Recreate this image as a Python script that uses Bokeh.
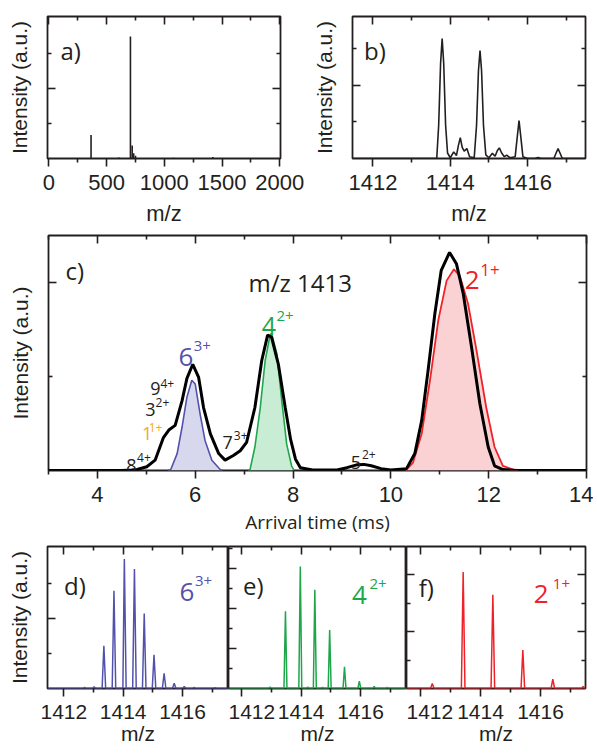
from bokeh.plotting import figure
from bokeh.models import Range1d, LinearAxis, FixedTicker, Label
from bokeh.layouts import column, row
from bokeh.embed import file_html
from bokeh.resources import INLINE

# ---------------- data ----------------
# a) full mass spectrum (stick peaks)
a_mz = [366, 606, 707, 722, 735, 751, 1080, 1420]
a_int = [0.67, 0.03, 3.49, 0.37, 0.15, 0.08, 0.02, 0.04]

# b) zoomed spectrum around m/z 1413
b_mz = [1411.5, 1413.65, 1413.70, 1413.75, 1413.79, 1413.83, 1413.88, 1413.93, 1414.00,
        1414.09, 1414.16, 1414.21, 1414.26, 1414.31, 1414.36, 1414.43, 1414.50, 1414.62,
        1414.68, 1414.73, 1414.77, 1414.81, 1414.86, 1414.92, 1415.00, 1415.09, 1415.16,
        1415.22, 1415.27, 1415.33, 1415.40, 1415.46, 1415.55, 1415.68, 1415.73, 1415.78,
        1415.83, 1415.88, 1416.00, 1416.20, 1416.27, 1416.35, 1416.68, 1416.74, 1416.79,
        1416.84, 1416.90, 1417.5]
b_int = [0, 0, 0.9, 2.6, 3.27, 2.6, 0.9, 0.15, 0.02,
         0.18, 0.08, 0.35, 0.57, 0.30, 0.20, 0.27, 0.05, 0.02,
         0.9, 2.4, 2.94, 2.4, 0.9, 0.1, 0.02, 0.14, 0.06,
         0.22, 0.29, 0.15, 0.05, 0.09, 0.02, 0.05, 0.55, 1.03,
         0.55, 0.05, 0.0, 0.0, 0.03, 0.0, 0.0, 0.15, 0.27,
         0.15, 0.0, 0.0]

# c) arrival time distributions
c_time = [3.0, 4.5, 4.7, 4.81, 5.01, 5.18, 5.35, 5.46, 5.59, 5.73, 5.83, 5.95, 6.07, 6.17,
          6.31, 6.48, 6.61, 6.78, 6.92, 7.05, 7.22, 7.36, 7.48, 7.56, 7.70, 7.84, 7.95,
          8.05, 8.15, 8.4, 8.9, 9.1, 9.3, 9.45, 9.6, 9.8, 10.0, 10.32, 10.49, 10.63, 10.76,
          10.90, 11.03, 11.20, 11.34, 11.48, 11.65, 11.82, 11.99, 12.12, 12.29, 12.6, 14.0]
c_total = [0, 0, 0.005, 0.01, 0.04, 0.11, 0.35, 0.43, 0.48, 0.74, 0.98, 1.13, 0.99, 0.67,
           0.39, 0.18, 0.11, 0.16, 0.21, 0.30, 0.67, 1.17, 1.44, 1.42, 1.13, 0.67, 0.33,
           0.12, 0.03, 0.005, 0.005, 0.03, 0.06, 0.065, 0.05, 0.02, 0.005, 0.02, 0.18, 0.53, 1.06,
           1.67, 2.13, 2.32, 2.20, 1.88, 1.31, 0.71, 0.25, 0.05, 0.01, 0, 0]
c_t6 = [5.45, 5.50, 5.63, 5.73, 5.83, 5.93, 6.00, 6.10, 6.20, 6.34, 6.51, 6.56]
c_i6 = [0, 0.01, 0.18, 0.46, 0.78, 0.96, 0.92, 0.60, 0.32, 0.11, 0.01, 0]
c_t4 = [7.08, 7.12, 7.22, 7.33, 7.43, 7.53, 7.56, 7.67, 7.77, 7.87, 7.97, 8.02]
c_i4 = [0, 0.01, 0.25, 0.67, 1.17, 1.44, 1.46, 1.24, 0.74, 0.28, 0.05, 0]
c_t2 = [10.30, 10.45, 10.63, 10.80, 10.97, 11.14, 11.29, 11.41, 11.58, 11.75, 11.95, 12.12,
        12.29, 12.50, 12.6]
c_i2 = [0, 0.08, 0.39, 0.96, 1.60, 2.02, 2.14, 2.07, 1.77, 1.28, 0.67, 0.25, 0.05, 0.01, 0]

# d) 6(3+) isotope pattern
d_mz = [1411.45, 1412.65, 1412.70, 1412.75, 1412.97, 1413.02, 1413.07, 1413.29, 1413.35, 1413.41,
        1413.63, 1413.69, 1413.75, 1413.99, 1414.04, 1414.10, 1414.32, 1414.38, 1414.44,
        1414.65, 1414.71, 1414.77, 1414.98, 1415.04, 1415.10, 1415.32, 1415.38, 1415.44,
        1415.66, 1415.72, 1415.78, 1416.00, 1416.06, 1416.12, 1416.34, 1416.39, 1416.44,
        1417.05, 1417.10, 1417.15, 1417.55]
d_int = [0, 0, 0.03, 0, 0, 0.05, 0, 0, 1.22, 0,
         0, 2.79, 0, 0, 3.69, 0, 0, 3.41, 0,
         0, 2.14, 0, 0, 0.96, 0, 0, 0.43, 0,
         0, 0.15, 0, 0, 0.06, 0, 0, 0.03, 0,
         0, 0.02, 0, 0]

# e) 4(2+) isotope pattern
e_mz = [1411.55, 1412.90, 1412.95, 1413.00, 1413.42, 1413.47, 1413.52, 1413.92, 1413.97, 1414.02,
        1414.18, 1414.22, 1414.26, 1414.41, 1414.46, 1414.51, 1414.68, 1414.72, 1414.76,
        1414.91, 1414.96, 1415.01, 1415.41, 1415.46, 1415.51, 1415.91, 1415.96, 1416.01,
        1416.41, 1416.46, 1416.51, 1416.85, 1416.90, 1416.95, 1417.55]
e_int = [0, 0, 0.08, 0, 0, 3.85, 0, 0, 6.08, 0,
         0, 0.08, 0, 0, 4.92, 0, 0, 0.06, 0,
         0, 2.92, 0, 0, 1.08, 0, 0, 0.37, 0,
         0, 0.10, 0, 0, 0.06, 0, 0]

# f) 2(1+) isotope pattern
f_mz = [1411.53, 1412.33, 1412.39, 1412.45, 1413.36, 1413.42, 1413.48, 1414.35, 1414.41, 1414.47,
        1415.35, 1415.41, 1415.47, 1416.35, 1416.41, 1416.47, 1417.37, 1417.42, 1417.47, 1417.5]
f_int = [0, 0, 0.18, 0, 0, 4.10, 0, 0, 3.30, 0,
         0, 1.35, 0, 0, 0.33, 0, 0, 0.07, 0, 0]

# ticks
a_xticks, a_xminor = [0, 500, 1000, 1500, 2000], [250, 750, 1250, 1750]
mz_xticks, mz_xminor = [1412, 1414, 1416], [1413, 1415, 1417]
c_xticks, c_xminor = [4, 6, 8, 10, 12, 14], [3, 5, 7, 9, 11, 13]
y4_ticks, y4_minor = [2], [1, 3]
c_yticks, c_yminor = [2], [1]
e_yticks, e_yminor = [2, 4, 6], [1, 3, 5, 7]
f_yticks, f_yminor = [2, 4], [1, 3]

# ---------------- styling ----------------
INK = "#231f20"
BLUE = "#5252ad"
BLUE_FILL = "#d7d7ee"
GREEN = "#1ea64b"
GREEN_FILL = "#c8ecd4"
RED = "#ee2228"
RED_FILL = "#fbd2d3"
ORANGE = "#f6a81c"
TICKF = "Liberation Sans"
ANNF = "Open Sans"


def style_axis(ax, side, labels, tick_size="22px"):
    ax.axis_line_color = None
    ax.major_tick_line_color = INK
    ax.minor_tick_line_color = INK
    ax.major_tick_line_width = 1.6
    ax.minor_tick_line_width = 1.6
    if side == "below":
        ax.major_tick_out, ax.major_tick_in = 8, 0
        ax.minor_tick_out, ax.minor_tick_in = 4, 0
    else:
        ax.major_tick_out, ax.major_tick_in = 0, 8
        ax.minor_tick_out, ax.minor_tick_in = 0, 4
    if labels:
        ax.major_label_text_font = TICKF
        ax.major_label_text_font_size = tick_size
        ax.major_label_text_color = INK
        ax.major_label_standoff = 8
    else:
        ax.major_label_text_font_size = "1px"
        ax.major_label_text_color = None
        ax.major_label_standoff = 0
    ax.axis_label_text_font_style = "normal"
    ax.axis_label_text_color = INK


def make_fig(w, h, xr, yr, borders, xt, yt, xlabel=None, ylabel=None,
             right=True, xlabel_font=TICKF, xlabel_size="22px", xlabel_standoff=8,
             tick_size="22px"):
    l, r, t, b = borders
    p = figure(width=w, height=h, x_range=Range1d(*xr), y_range=Range1d(*yr),
               output_backend="svg", toolbar_location=None,
               min_border_left=l, min_border_right=r, min_border_top=t, min_border_bottom=b)
    p.xgrid.visible = False
    p.ygrid.visible = False
    p.outline_line_color = INK
    p.outline_line_width = 1.8
    p.background_fill_color = "white"
    p.border_fill_color = "white"
    xtick = FixedTicker(ticks=xt[0], minor_ticks=xt[1])
    ytick = FixedTicker(ticks=yt[0], minor_ticks=yt[1])
    bx = p.below[0]
    bx.ticker = xtick
    style_axis(bx, "below", True, tick_size)
    if xlabel:
        bx.axis_label = xlabel
        bx.axis_label_text_font = xlabel_font
        bx.axis_label_text_font_size = xlabel_size
        bx.axis_label_standoff = xlabel_standoff
    ly = p.left[0]
    ly.ticker = ytick
    style_axis(ly, "left", False)
    if ylabel:
        ly.axis_label = ylabel
        ly.axis_label_text_font = TICKF
        ly.axis_label_text_font_size = "21px"
        ly.axis_label_standoff = 17
    top = LinearAxis(ticker=xtick)
    style_axis(top, "above", False)
    p.add_layout(top, "above")
    if right:
        ra = LinearAxis(ticker=ytick)
        style_axis(ra, "right", False)
        p.add_layout(ra, "right")
    return p


def lab(p, x, y, text, size, color=INK, font=ANNF, align="left"):
    p.add_layout(Label(x=x, y=y, text=text, text_font=font, text_font_size=size,
                       text_color=color, text_baseline="alphabetic", text_align=align))


# ---------------- a ----------------
pa = make_fig(308, 234, (-11, 2006), (0, 4.06), (47, 28, 16, 76),
              (a_xticks, a_xminor), (y4_ticks, y4_minor), xlabel="m/z", ylabel="Intensity (a.u.)")
pa.segment(x0=a_mz, y0=[0] * len(a_mz), x1=a_mz, y1=a_int, line_color=INK, line_width=1.6)
lab(pa, 101, 3.09, "a)", "24px")

# ---------------- b ----------------
pb = make_fig(285, 234, (1411.47, 1417.5), (0, 3.87), (44, 8, 16, 76),
              (mz_xticks, mz_xminor), (y4_ticks, y4_minor), xlabel="m/z", ylabel="Intensity (a.u.)")
pb.line(b_mz, b_int, line_color=INK, line_width=1.6)
lab(pb, 1411.77, 2.94, "b)", "24px")

# ---------------- c ----------------
pc = make_fig(593, 306, (3, 14), (0, 2.5), (48, 7, 1, 70),
              (c_xticks, c_xminor), (c_yticks, c_yminor), xlabel="Arrival time (ms)",
              ylabel="Intensity (a.u.)", xlabel_font=ANNF, xlabel_size="19px", xlabel_standoff=4)
pc.varea(x=c_t6, y1=[0] * len(c_t6), y2=c_i6, fill_color=BLUE_FILL)
pc.varea(x=c_t4, y1=[0] * len(c_t4), y2=c_i4, fill_color=GREEN_FILL)
pc.varea(x=c_t2, y1=[0] * len(c_t2), y2=c_i2, fill_color=RED_FILL)
pc.line(c_t6, c_i6, line_color=BLUE, line_width=1.6)
pc.line(c_t4, c_i4, line_color=GREEN, line_width=1.6)
pc.line(c_t2, c_i2, line_color=RED, line_width=1.8)
pc.line(c_time, c_total, line_color="black", line_width=3)

lab(pc, 3.35, 2.13, "c)", "24px")
lab(pc, 7.09, 2.0, "m/z 1413", "24px")
lab(pc, 5.66, 1.205, "6", "26px", BLUE)
lab(pc, 5.97, 1.32, "3+", "15px", BLUE)
lab(pc, 7.36, 1.54, "4", "25px", GREEN)
lab(pc, 7.66, 1.64, "2+", "15px", GREEN)
lab(pc, 11.51, 2.03, "2", "26px", RED)
lab(pc, 11.83, 2.13, "1+", "17px", RED)
lab(pc, 5.08, 0.87, "9", "18px")
lab(pc, 5.29, 0.93, "4+", "12px")
lab(pc, 4.98, 0.65, "3", "18px")
lab(pc, 5.19, 0.72, "2+", "12px")
lab(pc, 4.91, 0.39, "1", "18px", ORANGE)
lab(pc, 5.05, 0.46, "1+", "12px", ORANGE)
lab(pc, 4.59, 0.053, "8", "18px")
lab(pc, 4.81, 0.135, "4+", "12px")
lab(pc, 6.56, 0.30, "7", "18px")
lab(pc, 6.79, 0.37, "3+", "12px")
lab(pc, 9.18, 0.09, "5", "18px")
lab(pc, 9.41, 0.17, "2+", "12px")

# ---------------- d ----------------
pd_ = make_fig(228, 213, (1411.45, 1417.55), (0, 4.05), (47, 0, 6, 65),
               (mz_xticks, mz_xminor), (y4_ticks, y4_minor), xlabel="m/z", xlabel_size="21px",
               xlabel_standoff=0, ylabel="Intensity (a.u.)", right=False, tick_size="21px")
pd_.line(d_mz, d_int, line_color=BLUE, line_width=1.5)
lab(pd_, 1412.01, 2.93, "d)", "24px")
lab(pd_, 1415.9, 2.74, "6", "26px", BLUE)
lab(pd_, 1416.42, 3.08, "3+", "15px", BLUE)

# ---------------- e ----------------
pe = make_fig(178, 213, (1411.55, 1417.55), (0, 7.08), (0, 0, 6, 65),
              (mz_xticks, mz_xminor), (e_yticks, e_yminor), xlabel="m/z", xlabel_size="21px",
              xlabel_standoff=0, right=False, tick_size="21px")
pe.line(e_mz, e_int, line_color=GREEN, line_width=1.5)
lab(pe, 1412.04, 5.13, "e)", "24px")
lab(pe, 1415.71, 4.64, "4", "26px", GREEN)
lab(pe, 1416.3, 5.22, "2+", "15px", GREEN)

# ---------------- f ----------------
pf = make_fig(187, 213, (1411.53, 1417.5), (0, 5.0), (0, 8, 6, 65),
              (mz_xticks, mz_xminor), (f_yticks, f_yminor), xlabel="m/z", xlabel_size="21px",
              xlabel_standoff=0, right=True, tick_size="21px")
pf.line(f_mz, f_int, line_color=RED, line_width=1.5)
lab(pf, 1411.94, 3.57, "f)", "24px")
lab(pf, 1415.77, 3.34, "2", "26px", RED)
lab(pf, 1416.41, 3.69, "1+", "15px", RED)

layout = column(row(pa, pb), pc, row(pd_, pe, pf))
open("out.html", "w").write(file_html(layout, INLINE))
